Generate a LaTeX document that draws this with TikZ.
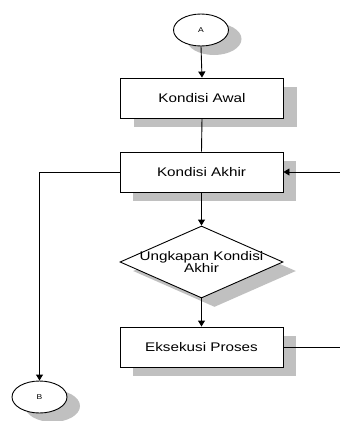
\documentclass[tikz,border=0pt]{standalone}
\usepackage{fontspec}
\setmainfont{Liberation Sans}
\usetikzlibrary{shapes.geometric,arrows.meta,shadows}
\definecolor{shadowgray}{RGB}{192,192,192}
\newcommand{\wtxt}[1]{\scalebox{1.22}[1]{#1}}
\newcommand{\ztxt}[1]{\makebox[0pt]{\scalebox{1.22}[1]{#1}}}
\begin{document}
\begin{tikzpicture}[x=1pt,y=-1pt,
  line width=0.9pt,
  >={Triangle[length=6pt,width=7pt]},
  shad/.style={drop shadow={shadow xshift=13pt,shadow yshift=-9pt,fill=shadowgray,opacity=1}},
  procbox/.style={draw,fill=white,shad,minimum width=163pt,minimum height=40pt,inner sep=0pt,
    font=\fontsize{12.5}{14}\selectfont},
  conn/.style={draw,fill=white,ellipse,shad,minimum width=55pt,minimum height=32pt,inner sep=0pt,
    font=\fontsize{7}{8}\selectfont},
  decide/.style={draw,fill=white,diamond,shad,minimum width=163pt,minimum height=72pt,inner sep=0pt,
    aspect=2.26,align=center,font=\fontsize{12.5}{11}\selectfont}]
\useasboundingbox (0,0) rectangle (340,421);
\node[conn] (A) at (201,30) {\wtxt{A}};
\node[procbox] (awal) at (202,98) {\wtxt{Kondisi Awal}};
\node[procbox] (akhir) at (201.5,172) {\wtxt{Kondisi Akhir}};
\node[decide] (dec) at (201.5,262) {\ztxt{Ungkapan Kondisi}\\[-1pt]\ztxt{Akhir}};
\node[procbox] (proses) at (201.5,347) {\wtxt{Eksekusi Proses}};
\node[conn] (B) at (39.5,397) {\wtxt{B}};
\coordinate (rin) at (340,172);
\coordinate (rout) at (340,347);
\draw[->] (A.south) -- (awal.north);
\draw (awal.south) -- (akhir.north);
\draw[->] (akhir.west) -| (B.north);
\draw[->] (rin) -- (akhir.east);
\draw[->] (akhir.south) -- (dec.north);
\draw[->] (dec.south) -- (proses.north);
\draw (proses.east) -- (rout);
\end{tikzpicture}
\end{document}
